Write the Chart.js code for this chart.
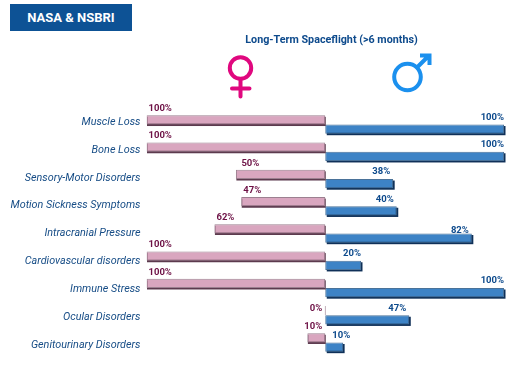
<!DOCTYPE html>
<html>
<head>
<meta charset="utf-8">
<title>NASA & NSBRI</title>
<script src="https://cdn.jsdelivr.net/npm/chart.js@4"></script>
<style>
  html, body { margin: 0; padding: 0; background: #fff; }
  #wrap { position: relative; width: 518px; height: 371px; overflow: hidden; font-family: Roboto, sans-serif; }
  #chart { position: absolute; left: 0; top: 0; }
  #badge {
    position: absolute; left: 10px; top: 4px; width: 122px; height: 27px; line-height: 27px;
    background: #0d5295; color: #fff; font-weight: 700; font-size: 13px; text-align: center;
  }
  #title {
    position: absolute; left: 181.5px; width: 300px; top: 32px; text-align: center;
    color: #0d4a8c; font-weight: 700; font-size: 10.75px; line-height: 15px;
  }
  #symbols { position: absolute; left: 0; top: 0; }
</style>
</head>
<body>
<div id="wrap">
  <canvas id="chart" width="518" height="371"></canvas>
  <div id="badge">NASA &amp; NSBRI</div>
  <div id="title">Long-Term Spaceflight (&gt;6 months)</div>
  <svg id="symbols" width="518" height="110" fill="none" stroke-width="4">
    <g stroke="#e0087f" stroke-linecap="round">
      <circle cx="240.5" cy="68" r="10.7"/>
      <path d="M240.5 79V96.5M232 88.5H249.5"/>
    </g>
    <g stroke="#1b90ee">
      <circle cx="407.5" cy="77" r="13.3"/>
      <path d="M417 67.5L429 55.5M420 55.5H429.5V65"/>
    </g>
  </svg>
</div>
<script>
const categories = ['Muscle Loss', 'Bone Loss', 'Sensory-Motor Disorders', 'Motion Sickness Symptoms',
  'Intracranial Pressure', 'Cardiovascular disorders', 'Immune Stress', 'Ocular Disorders', 'Genitourinary Disorders'];
const femaleValues = [100, 100, 50, 47, 62, 100, 100, 0, 10];
const maleValues = [100, 100, 38, 40, 82, 20, 100, 47, 10];

const shadowColors = ['#5c3a4e', '#0f3058'];
const barHalf = 4.6;

//  Category names, percent labels and the shadow under the bars
const extras = {
  id: 'extras',
  beforeDatasetDraw(chart, args) {
    const c = chart.ctx;
    const dx = args.index === 1 ? 1.5 : 0.5;
    c.save();
    c.fillStyle = shadowColors[args.index];
    chart.getDatasetMeta(args.index).data.forEach(bar => {
      const left = Math.min(bar.x, bar.base);
      const width = Math.abs(bar.x - bar.base);
      if (width > 1) c.fillRect(left + dx, bar.y - bar.height / 2 + 1.5, width, bar.height);
    });
    c.restore();
  },
  afterDraw(chart) {
    const c = chart.ctx;
    const yScale = chart.scales.y;
    const xScale = chart.scales.x;
    const zero = xScale.getPixelForValue(0);
    c.save();
    c.textBaseline = 'middle';

    //  the names run slightly wider apart than the bars in the original
    c.font = 'italic 400 10.8px Roboto';
    c.fillStyle = '#174d86';
    c.textAlign = 'right';
    categories.forEach((name, i) => {
      c.fillText(name, 140.5, yScale.getPixelForTick(i) - 2.5 + i * 0.65);
    });

    c.font = '700 9.5px Roboto';
    c.fillStyle = '#6d1145';
    chart.getDatasetMeta(0).data.forEach((bar, i) => {
      const v = femaleValues[i];
      const top = bar.y - barHalf;
      if (v <= 10) {
        c.textAlign = 'right';
        c.fillText(v + '%', zero - 3, v === 0 ? top + 3 : top - 7);
      } else {
        c.textAlign = 'left';
        c.fillText(v + '%', bar.x + (v === 50 ? 5.5 : 2), top - 6.5);
      }
    });
    c.fillStyle = '#0d4a8c';
    chart.getDatasetMeta(1).data.forEach((bar, i) => {
      const v = maleValues[i];
      const top = bar.y - barHalf;
      if (v <= 10) {
        c.textAlign = 'left';
        c.fillText(v + '%', zero + 7, top - 7);
      } else {
        c.textAlign = 'right';
        c.fillText(v + '%', bar.x - (v === 100 || v === 20 ? 0 : 3), v === 82 ? top - 3.3 : top - 7);
      }
    });
    c.restore();
  }
};

new Chart(document.getElementById('chart').getContext('2d'), {
  type: 'bar',
  data: {
    labels: categories,
    datasets: [
      {
        label: 'Female',
        data: femaleValues.map(v => -v),
        backgroundColor: '#d9a6bf',
        borderColor: '#9c8090',
        borderWidth: 1,
        borderSkipped: false,
        minBarLength: 1
      },
      {
        label: 'Male',
        data: maleValues,
        backgroundColor: '#3d83c6',
        borderColor: '#4a7299',
        borderWidth: 1,
        borderSkipped: false,
        minBarLength: 1
      }
    ]
  },
  options: {
    indexAxis: 'y',
    responsive: false,
    animation: false,
    layout: { padding: { left: 146.5, right: 14, top: 110.9, bottom: 14.9 } },
    datasets: { bar: { categoryPercentage: 18.4 / 27.25, barPercentage: 1 } },
    scales: {
      x: { min: -100, max: 100, display: false },
      y: { display: false }
    },
    plugins: {
      legend: { display: false },
      tooltip: { enabled: false }
    }
  },
  plugins: [extras]
});
</script>
</body>
</html>
